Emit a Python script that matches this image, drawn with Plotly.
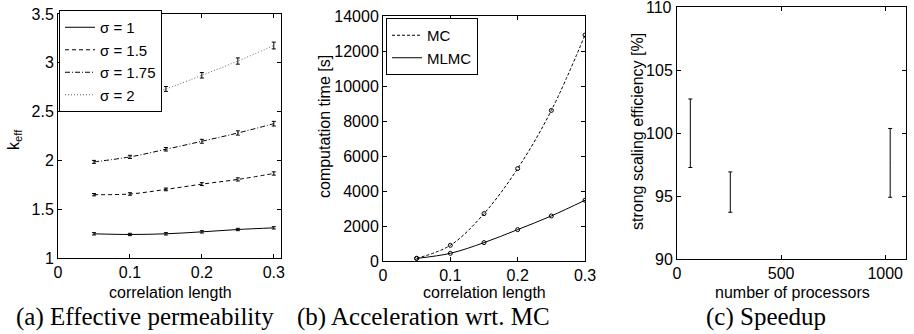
import plotly.graph_objects as go

W, H = 914, 334

# ---------------- data ----------------
corr_len = [0.05, 0.10, 0.15, 0.20, 0.25, 0.30]

k_sigma1 = [1.248, 1.241, 1.248, 1.268, 1.292, 1.309]
k_sigma15 = [1.649, 1.656, 1.703, 1.757, 1.805, 1.866]
k_sigma175 = [1.985, 2.036, 2.114, 2.196, 2.281, 2.376]
k_sigma2 = [2.530, 2.620, 2.732, 2.872, 3.018, 3.177]

err_sigma1 = [0.012, 0.012, 0.012, 0.012, 0.012, 0.012]
err_sigma15 = [0.012, 0.013, 0.014, 0.015, 0.016, 0.017]
err_sigma175 = [0.015, 0.016, 0.018, 0.020, 0.022, 0.024]
err_sigma2 = [0.020, 0.022, 0.025, 0.028, 0.032, 0.035]

sigma_labels = ["σ = 1", "σ = 1.5", "σ = 1.75", "σ = 2"]

time_mc = [153, 896, 2708, 5283, 8602, 12912]
time_mlmc = [150, 439, 1049, 1793, 2575, 3471]
time_labels = ["MC", "MLMC"]

processors = [64, 256, 1024]
efficiency = [99.98, 95.31, 97.63]
efficiency_err = [2.72, 1.60, 2.73]

ticks_a_x = [0, 0.1, 0.2, 0.3]
ticks_a_y = [1, 1.5, 2, 2.5, 3, 3.5]
ticks_b_x = [0, 0.1, 0.2, 0.3]
ticks_b_y = [0, 2000, 4000, 6000, 8000, 10000, 12000, 14000]
ticks_c_x = [0, 500, 1000]
ticks_c_y = [90, 95, 100, 105, 110]

captions = ["(a) Effective permeability", "(b) Acceleration wrt. MC", "(c) Speedup"]
xtitles = ["correlation length", "correlation length", "number of processors"]
ytitles = ["k<sub>eff</sub>", "computation time [s]", "strong scaling efficiency [%]"]

# ---------------- helpers ----------------
def px(x):
    return x / W

def py(y):
    return 1 - y / H

SANS = "Liberation Sans, Arial, sans-serif"
SERIF = "Liberation Serif, Times New Roman, serif"
TF = dict(family=SANS, size=16, color="black")

fig = go.Figure()

# panel (a)
styles_a = [
    dict(color="black", width=1, dash="solid"),
    dict(color="black", width=1, dash="4px,3px"),
    dict(color="black", width=1, dash="5px,2px,1px,2px"),
    dict(color="#666666", width=1, dash="1px,2px"),
]
for vals, errs, name, st in zip(
    [k_sigma1, k_sigma15, k_sigma175, k_sigma2],
    [err_sigma1, err_sigma15, err_sigma175, err_sigma2],
    sigma_labels, styles_a):
    fig.add_trace(go.Scatter(
        x=corr_len, y=vals, name=name, mode="lines",
        line=dict(shape="spline", **st),
        error_y=dict(type="data", array=errs, visible=True,
                     color="black", thickness=1, width=2),
        xaxis="x", yaxis="y", legend="legend",
    ))

# panel (b): lines (with legend) and markers (without)
for vals, name, dash in zip([time_mc, time_mlmc], time_labels, ["3px,2px", "solid"]):
    fig.add_trace(go.Scatter(
        x=corr_len, y=vals, name=name, mode="lines",
        line=dict(shape="spline", color="black", width=1, dash=dash),
        xaxis="x2", yaxis="y2", legend="legend2",
    ))
    fig.add_trace(go.Scatter(
        x=corr_len, y=vals, name=name, mode="markers", showlegend=False,
        marker=dict(symbol="circle-open", size=4, color="black", line=dict(width=1)),
        xaxis="x2", yaxis="y2",
    ))

# panel (c)
fig.add_trace(go.Scatter(
    x=processors, y=efficiency, mode="markers", showlegend=False,
    marker=dict(size=1, color="rgba(0,0,0,0.3)"),
    error_y=dict(type="data", array=efficiency_err, visible=True,
                 color="black", thickness=1, width=2),
    xaxis="x3", yaxis="y3",
))

axis_common = dict(
    showline=True, linecolor="black", linewidth=1, mirror="ticks",
    ticks="inside", ticklen=4, tickcolor="black", tickwidth=1,
    showgrid=False, zeroline=False, tickfont=TF, automargin=False,
)

# top tick label of panel (c) sits at the very edge of the page, where plotly
# would hide it; it is written as an annotation at the same axis value instead
ticktext_c_y = [str(v) for v in ticks_c_y[:-1]] + [""]

LF = dict(family=SANS, size=15, color="black")
fig.update_layout(
    width=W, height=H,
    margin=dict(l=0, r=0, t=0, b=0),
    paper_bgcolor="white", plot_bgcolor="white",
    xaxis=dict(domain=[px(58), px(281)], range=[0, 0.31], tickvals=ticks_a_x,
               anchor="y", **axis_common),
    yaxis=dict(domain=[py(258), py(14)], range=[1, 3.5], tickvals=ticks_a_y,
               anchor="x", **axis_common),
    xaxis2=dict(domain=[px(383), px(585)], range=[0, 0.3], tickvals=ticks_b_x,
                anchor="y2", **axis_common),
    yaxis2=dict(domain=[py(261), py(16)], range=[0, 14000], tickvals=ticks_b_y,
                tickformat="d", anchor="x2", **axis_common),
    xaxis3=dict(domain=[px(677), px(906)], range=[0, 1100], tickvals=ticks_c_x,
                anchor="y3", **axis_common),
    yaxis3=dict(domain=[py(259), py(7)], range=[90, 110], tickvals=ticks_c_y,
                ticktext=ticktext_c_y, anchor="x3", **axis_common),
    legend=dict(x=px(59), y=py(10), xanchor="left", yanchor="top",
                bgcolor="white", bordercolor="black", borderwidth=1,
                font=LF, tracegroupgap=0, itemwidth=30),
    legend2=dict(x=px(386), y=py(18), xanchor="left", yanchor="top",
                 bgcolor="white", bordercolor="black", borderwidth=1,
                 font=LF, tracegroupgap=0, itemwidth=30),
)

annots = []
annots.append(dict(x=px(674), y=ticks_c_y[-1], xref="paper", yref="y3",
                   text=str(ticks_c_y[-1]), showarrow=False, xanchor="right",
                   yanchor="middle", font=TF))
# x titles
for cx, text in zip([170, 484, 792], xtitles):
    annots.append(dict(x=px(cx), y=py(292), xref="paper", yref="paper", text=text,
                       showarrow=False, xanchor="center", yanchor="middle", font=TF))
# y titles
for (cx, cy), text in zip([(14, 140), (325, 127), (637, 132)], ytitles):
    annots.append(dict(x=px(cx), y=py(cy), xref="paper", yref="paper", text=text,
                       textangle=-90, showarrow=False, xanchor="center",
                       yanchor="middle", font=TF))
# captions
for cx, text in zip([145, 423, 766], captions):
    annots.append(dict(x=px(cx), y=py(317), xref="paper", yref="paper", text=text,
                       showarrow=False, xanchor="center", yanchor="middle",
                       font=dict(family=SERIF, size=25, color="black")))
fig.update_layout(annotations=annots)

fig.write_html("out.html", config={"displayModeBar": False},
               post_script="document.body.style.margin='0';")
